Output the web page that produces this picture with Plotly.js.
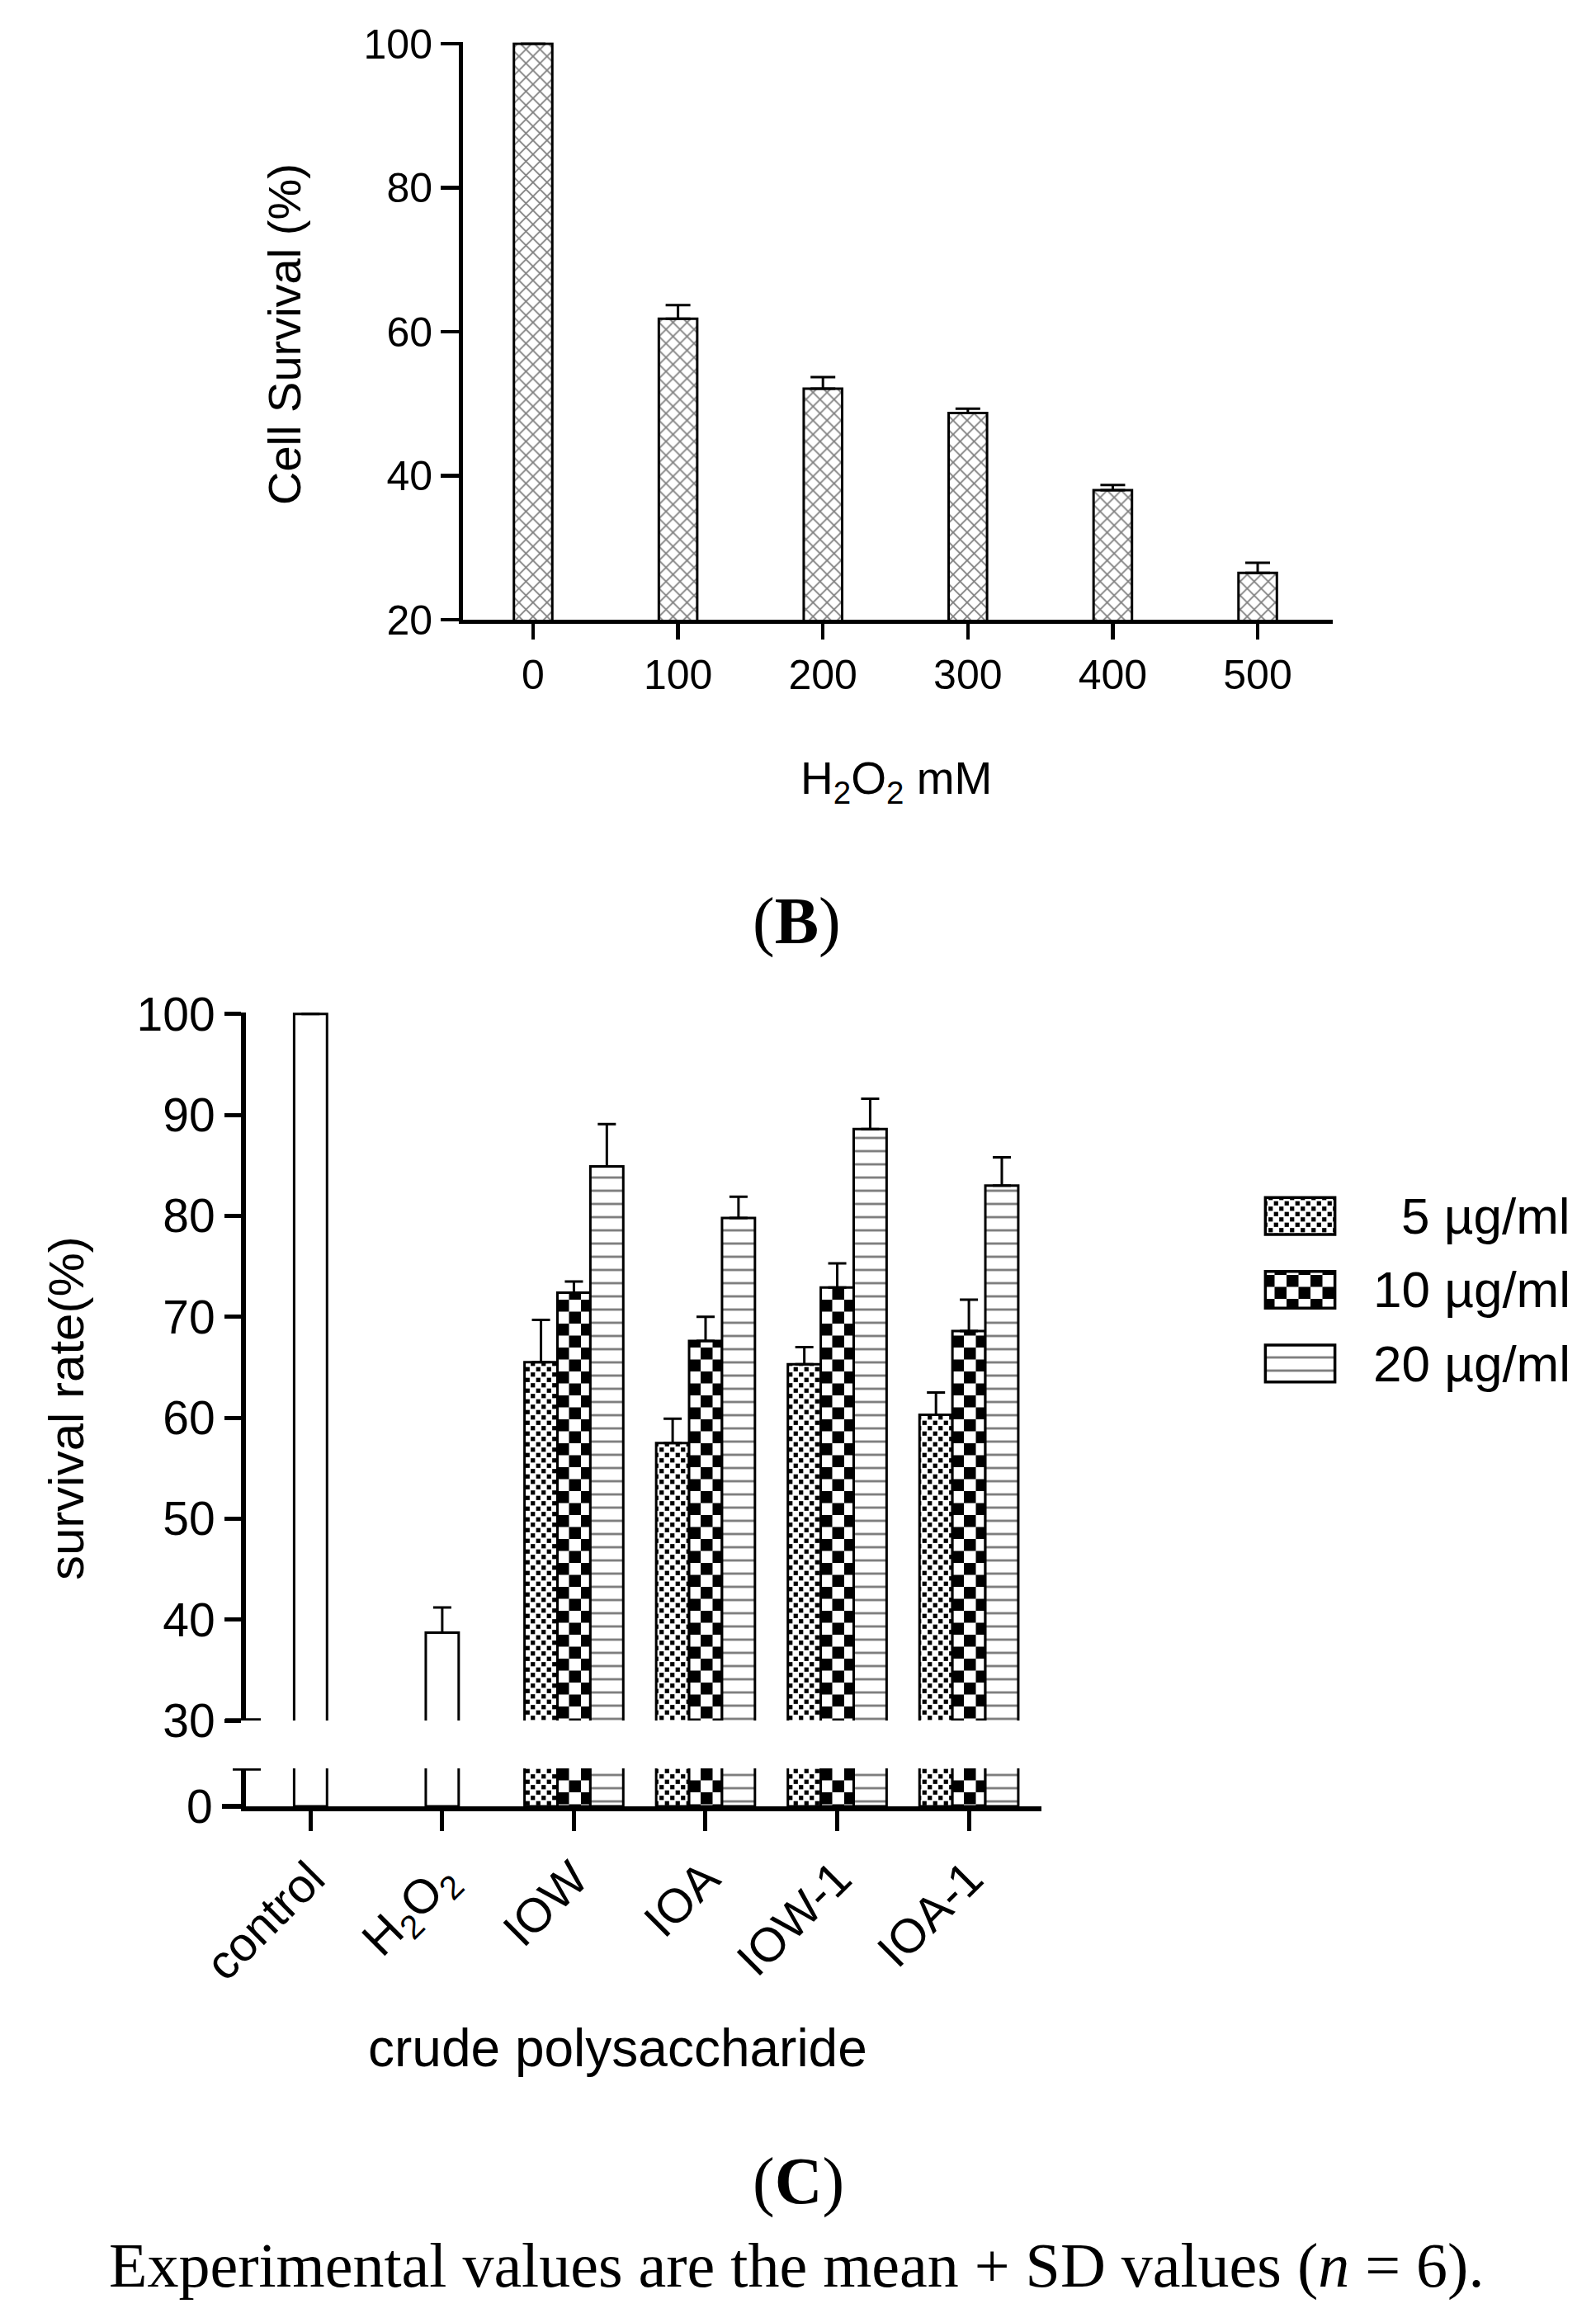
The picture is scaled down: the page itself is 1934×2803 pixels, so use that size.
<!DOCTYPE html>
<html>
<head>
<meta charset="utf-8">
<script src="https://cdn.plot.ly/plotly-3.0.1.min.js"></script>
<style>
    html, body { margin: 0; padding: 0; background: #fff; }
    #myDiv { width: 1934px; height: 2803px; }
</style>
</head>
<body>
<div id="myDiv"></div>
<script>
// panel B - H2O2 dose response
const h2o2Doses = ["0", "100", "200", "300", "400", "500"];
const cellSurvival = [100, 61.8, 52.1, 48.7, 38.0, 26.5];
const cellSurvivalSD = [0, 1.9, 1.6, 0.6, 0.7, 1.4];
const noMinus6 = [0, 0, 0, 0, 0, 0];

// panel C - crude polysaccharide
const groups = ["control", "H<sub>2</sub>O<sub>2</sub>", "IOW", "IOA", "IOW-1", "IOA-1"];
const refGroups = ["control", "H<sub>2</sub>O<sub>2</sub>"];
const refSurvival = [100, 38.7];
const refSD = [0, 2.5];
const samples = ["IOW", "IOA", "IOW-1", "IOA-1"];
const doses = ["5 µg/ml", "10 µg/ml", "20 µg/ml"];
const survival5 = [65.5, 57.5, 65.3, 60.3];
const survival10 = [72.4, 67.6, 72.9, 68.6];
const survival20 = [84.9, 79.8, 88.6, 83.0];
const sd5 = [4.2, 2.4, 1.7, 2.2];
const sd10 = [1.1, 2.4, 2.4, 3.1];
const sd20 = [4.2, 2.1, 3.0, 2.8];
const noMinus4 = [0, 0, 0, 0];
const noMinus2 = [0, 0];

const W = 1934, H = 2803;
const px = (v) => v / W;
const py = (v) => 1 - v / H;

const black = "#000000";
const sans = "Liberation Sans, Arial, sans-serif";
const serif = "Liberation Serif, Times New Roman, serif";

// dose styles (dot patterns get turned into checkerboards after render)
const doseStyle = [
    { shape: ".", size: 13, solidity: 0.32, offset: -0.375 },
    { shape: ".", size: 29, solidity: 0.5, offset: -0.125 },
    { shape: "-", size: 16, solidity: 0.18, offset: 0.125 },
];
const doseVals = [survival5, survival10, survival20];
const doseSD = [sd5, sd10, sd20];

function errBars(arr, minus, w) {
    return {
        type: "data", array: arr, symmetric: false, arrayminus: minus,
        color: black, thickness: 3, width: w,
    };
}

let data = [];

// top chart
data.push({
    type: "bar", x: h2o2Doses, y: cellSurvival, xaxis: "x", yaxis: "y",
    width: 0.265, showlegend: false, hoverinfo: "none",
    marker: {
        color: "white",
        line: { color: black, width: 3 },
        pattern: { shape: "x", size: 12, solidity: 0.27, fgcolor: black, fillmode: "overlay" },
    },
    error_y: errBars(cellSurvivalSD, noMinus6, 15),
});

// bottom chart, upper (y2) and lower (y3) segments
["y2", "y3"].forEach((ya) => {
    const upper = ya === "y2";
    data.push({
        type: "bar", x: refGroups, y: refSurvival, xaxis: "x2", yaxis: ya,
        width: 0.25, showlegend: false, hoverinfo: "none",
        marker: { color: "white", line: { color: black, width: 3 } },
        error_y: upper ? errBars(refSD, noMinus2, 11) : { visible: false },
    });
    doses.forEach((d, i) => {
        const st = doseStyle[i];
        data.push({
            type: "bar", x: samples, y: doseVals[i], xaxis: "x2", yaxis: ya,
            name: d, width: 0.25, offset: st.offset, showlegend: false, hoverinfo: "none",
            marker: {
                color: "white",
                line: { color: black, width: 3 },
                pattern: { shape: st.shape, size: st.size, solidity: st.solidity, fgcolor: black, fillmode: "overlay" },
            },
            error_y: upper ? errBars(doseSD[i], noMinus4, 11) : { visible: false },
        });
    });
});

// legend swatches drawn as a tiny bar subplot
doses.forEach((d, i) => {
    const st = doseStyle[i];
    data.push({
        type: "bar", orientation: "h", x: [1], y: [d], xaxis: "x3", yaxis: "y4",
        width: 0.5, showlegend: false, hoverinfo: "none",
        marker: {
            color: "white",
            line: { color: black, width: 3.5 },
            pattern: { shape: st.shape, size: st.size, solidity: st.solidity, fgcolor: black, fillmode: "overlay" },
        },
    });
});

const axisCommon = {
    showline: true, linecolor: black, linewidth: 5,
    ticks: "outside", tickcolor: black, tickwidth: 4.5,
    showgrid: false, zeroline: false, fixedrange: true, automargin: false,
};

let annotations = [
    { text: "Cell Survival (%)", x: px(345), y: py(405), textangle: -90, font: { size: 56 } },
    { text: "H<sub>2</sub>O<sub>2</sub> mM", x: px(1086), y: py(947), font: { size: 55 } },
    { text: "(<b>B</b>)", x: px(965), y: py(1117), font: { size: 80, family: serif } },
    { text: "survival rate(%)", x: px(80), y: py(1707), textangle: -90, font: { size: 60 } },
    { text: "crude polysaccharide", x: px(748), y: py(2482), font: { size: 64 } },
    { text: "(<b>C</b>)", x: px(967), y: py(2643), font: { size: 80, family: serif } },
    { text: "Experimental values are the mean + SD values (<i>n</i> = 6).", x: px(965), y: py(2745), font: { size: 76, family: serif } },
].map((a) => Object.assign({ xref: "paper", yref: "paper", showarrow: false, xanchor: "center", yanchor: "middle" }, a));

doses.forEach((d) => {
    annotations.push({
        text: d, xref: "paper", yref: "y4", x: px(1905), y: d,
        xanchor: "right", yanchor: "middle", showarrow: false, font: { size: 62 },
    });
});

let layout = {
    width: W,
    height: H,
    margin: { l: 0, r: 0, t: 0, b: 0 },
    paper_bgcolor: "white",
    plot_bgcolor: "rgba(0,0,0,0)",
    font: { family: sans, color: black },
    barmode: "overlay",
    showlegend: false,
    dragmode: false,
    hovermode: false,

    xaxis: Object.assign({}, axisCommon, {
        domain: [px(561), px(1615)], anchor: "y",
        type: "category", categoryorder: "array", categoryarray: h2o2Doses,
        range: [-0.484, 5.518], ticklen: 19, tickfont: { size: 50 },
    }),
    yaxis: Object.assign({}, axisCommon, {
        domain: [py(751), py(51.3)], anchor: "x",
        range: [20, 100.2], tickvals: [20, 40, 60, 80, 100], ticklen: 22, tickfont: { size: 50 },
    }),

    xaxis2: Object.assign({}, axisCommon, {
        domain: [px(298), px(1262)], anchor: "y3", linewidth: 6, tickwidth: 5,
        type: "category", categoryorder: "array", categoryarray: groups,
        range: [-0.491, 5.551], ticklen: 24, tickangle: -45, tickfont: { size: 58 },
    }),
    yaxis2: Object.assign({}, axisCommon, {
        domain: [py(2085), py(1227)], anchor: "x2", linewidth: 6, tickwidth: 5,
        range: [30, 100.15], tickvals: [30, 40, 50, 60, 70, 80, 90, 100], ticklen: 20, tickfont: { size: 57 },
    }),
    yaxis3: Object.assign({}, axisCommon, {
        domain: [py(2189), py(2143)], anchor: "x2", linewidth: 6, tickwidth: 6,
        range: [0, 3.85], tickvals: [0], ticklen: 23, tickfont: { size: 57 },
    }),

    xaxis3: { domain: [px(1530), px(1621)], anchor: "y4", range: [-0.04, 1.04], visible: false, fixedrange: true },
    yaxis4: {
        domain: [py(1697), py(1429)], anchor: "x3", type: "category",
        categoryorder: "array", categoryarray: doses, range: [2.5, -0.5], visible: false, fixedrange: true,
    },

    shapes: [
        // broken-axis end caps
        { type: "line", xref: "paper", yref: "y2", x0: px(273), x1: px(316), y0: 30, y1: 30, line: { color: black, width: 5.5 } },
        { type: "line", xref: "paper", yref: "y3", x0: px(282), x1: px(316), y0: 3.85, y1: 3.85, line: { color: black, width: 5.5 } },
    ],
    annotations: annotations,
};

// checker square side from tile size and the pattern's solidity
const checkerSide = { 13: 0.4, 29: 0.5 };

Plotly.newPlot("myDiv", data, layout, { displayModeBar: false, staticPlot: true }).then((gd) => {
    // turn the dot patterns into checkerboards
    const NS = "http://www.w3.org/2000/svg";
    gd.querySelectorAll("pattern").forEach((p) => {
        const dot = p.querySelector("circle");
        if (!dot) return;
        const w = parseFloat(p.getAttribute("width"));
        const half = w / 2;
        const side = w * (checkerSide[Math.round(w)] || 0.5);
        dot.remove();
        [[0, 0], [half, half]].forEach(([x, y]) => {
            const r = document.createElementNS(NS, "rect");
            r.setAttribute("x", x + (half - side) / 2);
            r.setAttribute("y", y + (half - side) / 2);
            r.setAttribute("width", side);
            r.setAttribute("height", side);
            r.setAttribute("fill", black);
            p.appendChild(r);
        });
    });
});
</script>
</body>
</html>
